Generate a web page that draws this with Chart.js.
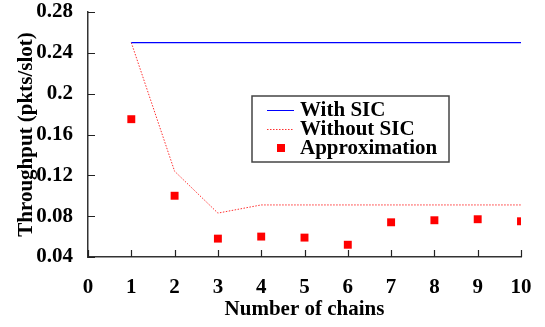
<!DOCTYPE html>
<html>
<head>
<meta charset="utf-8">
<script src="https://cdn.jsdelivr.net/npm/chart.js@4.4.0/dist/chart.umd.min.js"></script>
<style>
  html, body { margin: 0; padding: 0; background: #fff; }
  #wrap { width: 545px; height: 327px; }
</style>
</head>
<body>
<div id="wrap"><canvas id="chart"></canvas></div>
<script>
const chains = [1, 2, 3, 4, 5, 6, 7, 8, 9, 10];
const withSIC = [0.25, 0.25, 0.25, 0.25, 0.25, 0.25, 0.25, 0.25, 0.25, 0.25];
const withoutSIC = [0.25, 0.124, 0.083, 0.091, 0.091, 0.091, 0.091, 0.091, 0.091, 0.091];
const approximation = [0.175, 0.1, 0.058, 0.06, 0.059, 0.052, 0.074, 0.076, 0.077, 0.075];
const yTicks = [0.04, 0.08, 0.12, 0.16, 0.2, 0.24, 0.28];
const xTicks = [0, 1, 2, 3, 4, 5, 6, 7, 8, 9, 10];

const FONT = "'Liberation Serif', 'Times New Roman', serif";
const pts = (ys) => chains.map((x, i) => ({ x: x, y: ys[i] }));

// ticks drawn inward from the axes
const innerTicks = {
    id: 'innerTicks',
    afterDraw(chart) {
        const { ctx, chartArea, scales: { x, y } } = chart;
        ctx.save();
        ctx.strokeStyle = '#222';
        ctx.lineWidth = 1.2;
        ctx.beginPath();
        yTicks.forEach((v) => {
            const py = Math.round(y.getPixelForValue(v)) + 0.5;
            ctx.moveTo(chartArea.left, py);
            ctx.lineTo(chartArea.left + 7, py);
        });
        xTicks.forEach((v) => {
            const px = Math.round(x.getPixelForValue(v)) + 0.5;
            ctx.moveTo(px, chartArea.bottom);
            ctx.lineTo(px, chartArea.bottom - 7);
        });
        ctx.stroke();
        ctx.restore();
    }
};

// boxed legend inside the plot
const boxLegend = {
    id: 'boxLegend',
    afterDraw(chart) {
        const ctx = chart.ctx;
        const bx = 252, by = 96, bw = 197, bh = 66;
        ctx.save();
        ctx.fillStyle = '#fff';
        ctx.fillRect(bx, by, bw, bh);
        ctx.strokeStyle = '#444';
        ctx.lineWidth = 1.5;
        ctx.strokeRect(bx, by, bw, bh);

        const rows = [110, 129, 148];
        ctx.lineWidth = 1;
        // With SIC
        ctx.strokeStyle = '#0000ff';
        ctx.beginPath();
        ctx.moveTo(267, rows[0] + 0.5);
        ctx.lineTo(294, rows[0] + 0.5);
        ctx.stroke();
        // Without SIC
        ctx.strokeStyle = '#ff3030';
        ctx.setLineDash([1.5, 1.5]);
        ctx.beginPath();
        ctx.moveTo(267, rows[1] + 0.5);
        ctx.lineTo(294, rows[1] + 0.5);
        ctx.stroke();
        ctx.setLineDash([]);
        // Approximation
        ctx.fillStyle = '#ff0000';
        ctx.fillRect(277, rows[2] - 4, 8, 8);

        ctx.fillStyle = '#000';
        ctx.font = 'bold 21px ' + FONT;
        ctx.textBaseline = 'middle';
        ctx.textAlign = 'left';
        ctx.fillText('With SIC', 300, rows[0] + 1);
        ctx.fillText('Without SIC', 300, rows[1] + 1);
        ctx.fillText('Approximation', 300, rows[2] + 1);
        ctx.restore();
    }
};

new Chart(document.getElementById('chart'), {
    type: 'scatter',
    data: {
        datasets: [
            {
                label: 'With SIC',
                data: pts(withSIC),
                showLine: true,
                borderColor: '#0000ff',
                borderWidth: 1.2,
                pointRadius: 0,
                tension: 0
            },
            {
                label: 'Without SIC',
                data: pts(withoutSIC),
                showLine: true,
                borderColor: '#ff3030',
                borderWidth: 1,
                borderDash: [1.5, 1.5],
                pointRadius: 0,
                tension: 0
            },
            {
                label: 'Approximation',
                data: pts(approximation),
                showLine: false,
                pointStyle: 'rect',
                pointRadius: 5.6,
                pointBackgroundColor: '#ff0000',
                pointBorderWidth: 0,
                borderColor: '#ff0000'
            }
        ]
    },
    options: {
        responsive: true,
        maintainAspectRatio: false,
        animation: false,
        layout: { autoPadding: false, padding: { top: 12, right: 24, left: 0, bottom: 0 } },
        plugins: {
            legend: { display: false },
            tooltip: { enabled: false }
        },
        scales: {
            x: {
                type: 'linear',
                min: 0,
                max: 10,
                afterFit: (scale) => {
                    scale.height = 70;
                    scale.paddingLeft = 0;
                    scale.paddingRight = 0;
                },
                afterBuildTicks: (scale) => { scale.ticks = xTicks.map((v) => ({ value: v })); },
                grid: { display: false, drawTicks: false },
                border: { display: true, color: '#333', width: 1.5 },
                ticks: {
                    color: '#000',
                    padding: 18,
                    maxRotation: 0,
                    font: { family: FONT, size: 21, weight: 'bold' }
                },
                title: {
                    display: true,
                    text: 'Number of chains',
                    color: '#000',
                    padding: { top: 0, bottom: 5 },
                    font: { family: FONT, size: 21, weight: 'bold' }
                }
            },
            y: {
                min: 0.04,
                max: 0.28,
                afterFit: (scale) => {
                    scale.width = 88;
                    scale.paddingTop = 0;
                    scale.paddingBottom = 0;
                },
                afterBuildTicks: (scale) => { scale.ticks = yTicks.map((v) => ({ value: v })); },
                grid: { display: false, drawTicks: false },
                border: { display: true, color: '#333', width: 1.5 },
                ticks: {
                    color: '#000',
                    padding: 15,
                    callback: (v) => String(Math.round(v * 100) / 100),
                    font: { family: FONT, size: 21, weight: 'bold' }
                },
                title: {
                    display: true,
                    text: 'Throughput (pkts/slot)',
                    color: '#000',
                    padding: { top: 14, bottom: 0 },
                    font: { family: FONT, size: 21, weight: 'bold' }
                }
            }
        }
    },
    plugins: [innerTicks, boxLegend]
});
</script>
</body>
</html>
